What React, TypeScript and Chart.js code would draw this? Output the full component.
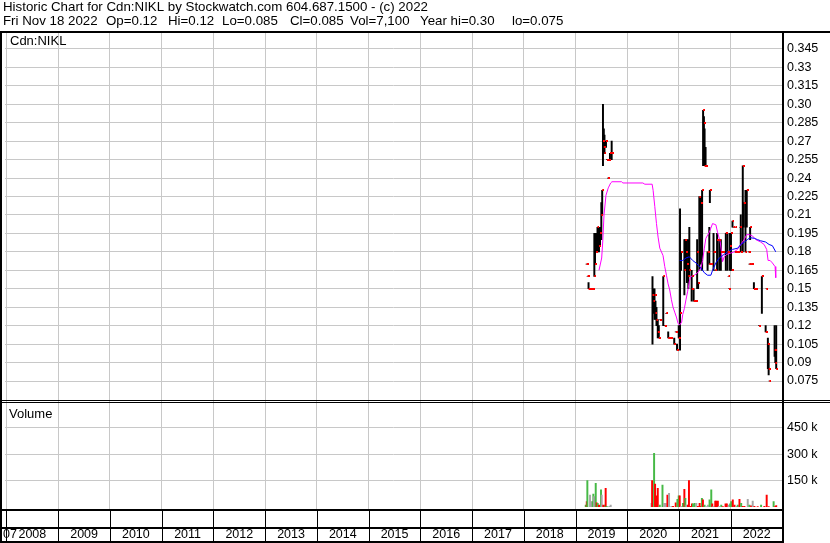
import React, { useEffect, useRef } from 'react';
import { Chart, registerables } from 'chart.js';

Chart.register(...registerables);

// ---------- text ----------
const headerLine1 = 'Historic Chart for Cdn:NIKL by Stockwatch.com 604.687.1500 - (c) 2022';
const headerFields = ['Fri Nov 18 2022', 'Op=0.12', 'Hi=0.12', 'Lo=0.085', 'Cl=0.085', 'Vol=7,100', 'Year hi=0.30', 'lo=0.075'];
const symbolLabel = 'Cdn:NIKL';
const volumeLabel = 'Volume';
const startLabel = '07';

// ---------- axes ----------
const yearTicks = [2008, 2009, 2010, 2011, 2012, 2013, 2014, 2015, 2016, 2017, 2018, 2019, 2020, 2021, 2022];
const yearLabels = ['2008', '2009', '2010', '2011', '2012', '2013', '2014', '2015', '2016', '2017', '2018', '2019', '2020', '2021', '2022'];

const priceTicks = [0.075, 0.09, 0.105, 0.12, 0.135, 0.15, 0.165, 0.18, 0.195, 0.21, 0.225, 0.24, 0.255, 0.27, 0.285, 0.3, 0.315, 0.33, 0.345];
const priceTickLabels = ['0.075', '0.09', '0.105', '0.12', '0.135', '0.15', '0.165', '0.18', '0.195', '0.21', '0.225', '0.24', '0.255', '0.27', '0.285', '0.30', '0.315', '0.33', '0.345'];

const volumeTicks = [150, 300, 450];
const volumeTickLabels = ['150 k', '300 k', '450 k'];

// ---------- daily price bars (decimal year) ----------
const barDates = [
  2019.214, 2019.233, 2019.252, 2019.281, 2019.310, 2019.339, 2019.364, 2019.377, 2019.397, 2019.425,
  2019.454, 2019.474, 2019.499, 2019.516, 2019.531, 2019.547, 2019.560, 2019.589, 2019.608, 2019.628,
  2019.647, 2019.666, 2019.699,
  2020.488, 2020.507, 2020.527, 2020.546, 2020.565, 2020.590, 2020.610, 2020.629, 2020.696, 2020.725,
  2020.754, 2020.792, 2020.821, 2020.850, 2020.908, 2020.937, 2020.962, 2020.995,
  2021.020, 2021.039, 2021.104, 2021.120, 2021.135, 2021.154, 2021.181, 2021.200, 2021.245, 2021.260,
  2021.283, 2021.328, 2021.351, 2021.370, 2021.393, 2021.424, 2021.447, 2021.466, 2021.482, 2021.495,
  2021.514, 2021.553, 2021.586, 2021.597, 2021.620, 2021.668, 2021.701, 2021.736, 2021.778, 2021.809,
  2021.842, 2021.905, 2021.938, 2021.957, 2021.966, 2021.986,
  2022.005, 2022.018, 2022.034, 2022.053, 2022.082, 2022.092, 2022.111, 2022.140, 2022.183, 2022.194,
  2022.233, 2022.252, 2022.285, 2022.310, 2022.348, 2022.361, 2022.375, 2022.394, 2022.419, 2022.448,
  2022.477, 2022.496, 2022.548, 2022.602, 2022.675, 2022.689, 2022.718, 2022.733, 2022.746, 2022.848,
  2022.862, 2022.879,
];
const barLows = [
  0.17, 0.16, 0.15, 0.15, 0.15, 0.15, 0.16, 0.17, 0.18, 0.18,
  0.18, 0.185, 0.19, 0.21, 0.25, 0.26, 0.26, 0.265, 0.255, 0.24,
  0.255, 0.255, 0.255,
  0.105, 0.13, 0.125, 0.125, 0.12, 0.11, 0.11, 0.125, 0.12, 0.12,
  0.13, 0.11, 0.11, 0.11, 0.105, 0.115, 0.10, 0.11,
  0.10, 0.165, 0.145, 0.17, 0.165, 0.155, 0.15, 0.16, 0.14, 0.16,
  0.14, 0.14, 0.15, 0.15, 0.165, 0.17, 0.165, 0.25, 0.25, 0.25,
  0.25, 0.165, 0.17, 0.22, 0.17, 0.165, 0.165, 0.165, 0.165, 0.165,
  0.18, 0.165, 0.165, 0.16, 0.15, 0.165,
  0.165, 0.165, 0.20, 0.20, 0.18, 0.20, 0.18, 0.18, 0.20, 0.18,
  0.18, 0.20, 0.18, 0.20, 0.18, 0.17, 0.19, 0.17, 0.17, 0.15,
  0.15, 0.15, 0.12, 0.13, 0.115, 0.15, 0.085, 0.08, 0.075, 0.095,
  0.09, 0.085,
];
const barHighs = [
  0.17, 0.16, 0.155, 0.15, 0.15, 0.15, 0.195, 0.195, 0.195, 0.20,
  0.20, 0.20, 0.22, 0.23, 0.30, 0.28, 0.275, 0.27, 0.255, 0.24,
  0.255, 0.26, 0.27,
  0.16, 0.15, 0.15, 0.14, 0.135, 0.125, 0.12, 0.125, 0.16, 0.12,
  0.13, 0.115, 0.11, 0.11, 0.11, 0.115, 0.105, 0.12,
  0.215, 0.18, 0.19, 0.19, 0.19, 0.19, 0.19, 0.20, 0.165, 0.16,
  0.15, 0.14, 0.19, 0.155, 0.225, 0.225, 0.23, 0.295, 0.29, 0.28,
  0.265, 0.18, 0.20, 0.23, 0.17, 0.195, 0.165, 0.195, 0.19, 0.19,
  0.18, 0.195, 0.195, 0.16, 0.15, 0.195,
  0.195, 0.165, 0.205, 0.20, 0.18, 0.20, 0.18, 0.18, 0.20, 0.21,
  0.25, 0.22, 0.23, 0.23, 0.18, 0.17, 0.20, 0.17, 0.17, 0.155,
  0.15, 0.15, 0.12, 0.16, 0.12, 0.15, 0.11, 0.105, 0.075, 0.12,
  0.10, 0.12,
];
const barCloses = [
  0.17, 0.16, 0.15, 0.15, 0.15, 0.15, 0.16, 0.17, 0.18, 0.20,
  0.185, 0.195, 0.21, 0.23, 0.27, 0.265, 0.26, 0.27, 0.255, 0.24,
  0.255, 0.26, 0.26,
  0.145, 0.14, 0.145, 0.13, 0.125, 0.115, 0.11, 0.125, 0.16, 0.12,
  0.13, 0.11, 0.11, 0.11, 0.105, 0.115, 0.10, 0.11,
  0.13, 0.18, 0.165, 0.19, 0.18, 0.17, 0.16, 0.165, 0.15, 0.16,
  0.14, 0.14, 0.18, 0.155, 0.225, 0.22, 0.23, 0.295, 0.285, 0.25,
  0.25, 0.18, 0.17, 0.23, 0.17, 0.18, 0.165, 0.19, 0.19, 0.18,
  0.18, 0.195, 0.18, 0.16, 0.15, 0.185,
  0.195, 0.165, 0.205, 0.20, 0.18, 0.20, 0.18, 0.18, 0.20, 0.18,
  0.25, 0.22, 0.18, 0.23, 0.18, 0.17, 0.20, 0.17, 0.17, 0.15,
  0.15, 0.15, 0.12, 0.16, 0.115, 0.15, 0.105, 0.085, 0.075, 0.10,
  0.09, 0.085,
];

// ---------- moving averages ----------
const maShortDates = [
  2019.454, 2019.506, 2019.526, 2019.551, 2019.589, 2019.633, 2019.680, 2019.705, 2019.891, 2019.916,
  2020.301, 2020.340, 2020.481, 2020.500, 2020.532, 2020.565, 2020.596, 2020.629, 2020.692, 2020.725,
  2020.758, 2020.789, 2020.821, 2020.854, 2020.885, 2020.917, 2020.950, 2020.981, 2021.014, 2021.052,
  2021.072, 2021.104, 2021.135, 2021.168, 2021.200, 2021.231, 2021.297, 2021.360, 2021.424, 2021.457,
  2021.490, 2021.520, 2021.586, 2021.649, 2021.713, 2021.745, 2021.797, 2021.822, 2021.842, 2021.874,
  2021.924, 2022.001, 2022.067, 2022.131, 2022.194, 2022.259, 2022.310, 2022.356, 2022.419, 2022.483,
  2022.579, 2022.645, 2022.695, 2022.722, 2022.761, 2022.805, 2022.857, 2022.870,
];
const maShortValues = [
  0.165, 0.175, 0.188, 0.210, 0.226, 0.232, 0.236, 0.237, 0.237, 0.236,
  0.236, 0.235, 0.235, 0.230, 0.217, 0.203, 0.192, 0.183, 0.177, 0.168,
  0.161, 0.154, 0.149, 0.141, 0.135, 0.131, 0.127, 0.122, 0.1205, 0.123,
  0.129, 0.134, 0.141, 0.148, 0.156, 0.160, 0.161, 0.163, 0.167, 0.173,
  0.183, 0.191, 0.196, 0.203, 0.202, 0.196, 0.188, 0.180, 0.172, 0.176,
  0.178, 0.179, 0.180, 0.182, 0.186, 0.190, 0.194, 0.194, 0.193, 0.190,
  0.188, 0.186, 0.182, 0.173, 0.173, 0.171, 0.168, 0.159,
];
const maLongDates = [
  2021.014, 2021.072, 2021.135, 2021.200, 2021.264, 2021.328, 2021.393, 2021.424, 2021.490, 2021.553,
  2021.616, 2021.649, 2021.713, 2021.778, 2021.842, 2021.938, 2022.034, 2022.136, 2022.194, 2022.265,
  2022.323, 2022.375, 2022.458, 2022.515, 2022.579, 2022.675, 2022.741, 2022.805, 2022.870,
];
const maLongValues = [
  0.173, 0.173, 0.175, 0.176, 0.173, 0.171, 0.168, 0.167, 0.163, 0.161,
  0.161, 0.165, 0.171, 0.175, 0.177, 0.180, 0.182, 0.183, 0.186, 0.188,
  0.190, 0.1915, 0.191, 0.190, 0.189, 0.188, 0.186, 0.185, 0.180,
];

// ---------- volume (thousands) ----------
const volDates = [
  2019.198, 2019.218, 2019.229, 2019.281, 2019.300, 2019.333, 2019.345, 2019.358, 2019.391, 2019.410,
  2019.429, 2019.454, 2019.493, 2019.506, 2019.537, 2019.570, 2019.583, 2019.603, 2019.653, 2019.680,
  2020.469, 2020.481, 2020.519, 2020.538, 2020.565, 2020.590, 2020.629, 2020.681, 2020.712, 2020.744,
  2020.777, 2020.808, 2020.854, 2020.885, 2020.937, 2020.970, 2020.995,
  2021.014, 2021.047, 2021.077, 2021.104, 2021.123, 2021.143, 2021.174, 2021.193, 2021.226, 2021.251,
  2021.270, 2021.303, 2021.335, 2021.366, 2021.399, 2021.418, 2021.443, 2021.463, 2021.495, 2021.528,
  2021.559, 2021.591, 2021.624, 2021.643, 2021.668, 2021.701, 2021.720, 2021.751, 2021.771, 2021.817,
  2021.848, 2021.900, 2021.925, 2021.963, 2021.990,
  2022.009, 2022.040, 2022.073, 2022.106, 2022.136, 2022.169, 2022.202, 2022.233, 2022.265, 2022.329,
  2022.361, 2022.394, 2022.425, 2022.458, 2022.521, 2022.587, 2022.650, 2022.695, 2022.733, 2022.829,
  2022.862, 2022.879,
];
const volValues = [
  10, 29, 150, 67, 29, 29, 73, 58, 134, 23,
  20, 10, 96, 67, 10, 10, 105, 3, 3, 10,
  20, 150, 305, 130, 62, 105, 10, 124, 20, 20,
  67, 77, 3, 2, 23, 43, 62,
  62, 3, 20, 100, 48, 10, 10, 149, 3, 16,
  16, 20, 20, 3, 20, 3, 48, 39, 10, 1.5,
  10, 39, 96, 16, 3, 33, 33, 33, 3, 10,
  1.5, 16, 16, 10, 16,
  29, 39, 10, 3, 10, 43, 20, 3, 3, 43,
  10, 5, 33, 2, 1.5, 10, 2, 67, 1.5, 29,
  3, 7.1,
];
// u = up (green), d = down (red), n = unchanged (grey)
const volDirs = [
  'u', 'd', 'u', 'n', 'n', 'u', 'u', 'n', 'u', 'd',
  'u', 'd', 'u', 'n', 'd', 'u', 'd', 'u', 'n', 'n',
  'n', 'd', 'u', 'd', 'd', 'd', 'u', 'u', 'n', 'n',
  'd', 'n', 'n', 'd', 'd', 'u', 'u',
  'd', 'n', 'u', 'd', 'u', 'n', 'd', 'd', 'd', 'd',
  'u', 'u', 'n', 'd', 'd', 'd', 'u', 'd', 'u', 'n',
  'n', 'u', 'u', 'd', 'n', 'd', 'd', 'd', 'n', 'u',
  'd', 'd', 'd', 'n', 'u',
  'u', 'd', 'd', 'n', 'u', 'd', 'u', 'd', 'd', 'n',
  'u', 'd', 'n', 'd', 'd', 'u', 'd', 'd', 'd', 'u',
  'd', 'd',
];
const dirColors: Record<string, string> = { u: '#46b946', d: '#ff0000', n: '#a6a6a6' };

const FONT = 'Arial, "Liberation Sans", sans-serif';
const headerFieldX = [3, 106, 168, 222, 290, 350, 420, 512];

const framePlugin = {
  id: 'stockFrame',
  beforeDraw(chart: any) {
    const ctx = chart.ctx;
    ctx.save();
    ctx.fillStyle = '#ffffff';
    ctx.fillRect(0, 0, chart.width, chart.height);
    ctx.restore();
  },
  afterDraw(chart: any) {
    const ctx = chart.ctx;
    const xs = chart.scales.x;
    ctx.save();
    ctx.fillStyle = '#000000';
    ctx.textBaseline = 'alphabetic';
    ctx.textAlign = 'left';
    ctx.font = '13.3px ' + FONT;
    ctx.fillText(headerLine1, 3, 11);
    headerFields.forEach((t, i) => ctx.fillText(t, headerFieldX[i], 25));
    ctx.font = '13px ' + FONT;
    ctx.fillText(symbolLabel, 10, 45);
    ctx.fillText(volumeLabel, 9, 418);
    ctx.font = '12.5px ' + FONT;
    ctx.textBaseline = 'middle';
    ctx.fillText(startLabel, 3, 535);

    // frame lines
    ctx.fillRect(0, 31, chart.width, 2); // header separator
    ctx.fillRect(0, 31, 2, chart.height - 31); // left border
    ctx.fillRect(782, 31, 2, chart.height - 31); // right plot border
    ctx.fillRect(0, 400, chart.width, 1); // panel separator (double)
    ctx.fillRect(0, 402, chart.width, 1);
    ctx.fillRect(0, 509, 784, 2); // volume bottom
    ctx.fillRect(0, 527, 784, 2); // strip middle
    ctx.fillRect(0, 541, 784, 2); // strip bottom
    for (const yr of yearTicks) {
      const px = Math.round(xs.getPixelForValue(yr));
      if (px > 2 && px < 782) ctx.fillRect(px, 510, 1, 32);
    }
    ctx.restore();
  },
};

export default function App() {
  const ref = useRef<HTMLCanvasElement>(null);

  useEffect(() => {
    document.body.style.margin = '0';
    const canvas = ref.current;
    if (!canvas) return;

    Chart.defaults.font.family = FONT;
    Chart.defaults.font.size = 12;
    Chart.defaults.color = '#000000';

    // close marker: small red square drawn just right of the bar
    const marker = document.createElement('canvas');
    marker.width = 4;
    marker.height = 2;
    const mctx = marker.getContext('2d');
    if (mctx) {
      mctx.fillStyle = '#ff0000';
      mctx.fillRect(2, 0, 2, 2);
    }

    const tickFont = { size: 12.5, family: FONT };

    const chart = new Chart(canvas, {
      type: 'line',
      data: {
        datasets: [
          {
            type: 'line',
            label: 'Close',
            data: barDates.map((d, i) => ({ x: d, y: barCloses[i] })),
            showLine: false,
            pointStyle: marker as any,
            pointRadius: 2,
            yAxisID: 'y',
            order: 0,
          },
          {
            type: 'line',
            label: 'MA long',
            data: maLongDates.map((d, i) => ({ x: d, y: maLongValues[i] })),
            borderColor: '#0000ff',
            borderWidth: 1,
            pointRadius: 0,
            yAxisID: 'y',
            order: 1,
          },
          {
            type: 'line',
            label: 'MA short',
            data: maShortDates.map((d, i) => ({ x: d, y: maShortValues[i] })),
            borderColor: '#ff00ff',
            borderWidth: 1,
            pointRadius: 0,
            yAxisID: 'y',
            order: 1,
          },
          {
            type: 'bar',
            label: 'Range',
            data: barDates.map((d, i) => ({ x: d, y: [barLows[i], barHighs[i]] })) as any,
            backgroundColor: '#000000',
            barThickness: 1.3,
            grouped: false,
            yAxisID: 'y',
            order: 2,
          } as any,
          {
            type: 'bar',
            label: 'Volume',
            data: volDates.map((d, i) => ({ x: d, y: volValues[i] })) as any,
            backgroundColor: volDirs.map((c) => dirColors[c]),
            barThickness: 1.3,
            grouped: false,
            yAxisID: 'yv',
            order: 3,
          } as any,
        ],
      },
      options: {
        animation: false,
        responsive: false,
        events: [],
        layout: { padding: { top: 32, left: 2, right: 0, bottom: 0 } },
        plugins: {
          legend: { display: false },
          tooltip: { enabled: false },
          title: { display: false },
        },
        scales: {
          x: {
            type: 'linear',
            min: 2007.974,
            max: 2022.991,
            offset: false,
            grid: { color: '#c8c8c8', drawTicks: false, offset: false },
            border: { display: false },
            ticks: {
              autoSkip: false,
              maxRotation: 0,
              minRotation: 0,
              padding: 18,
              labelOffset: 26,
              color: '#000000',
              font: tickFont,
              callback: (_v: any, i: number) => yearLabels[i],
            },
            afterBuildTicks: (s: any) => {
              s.ticks = yearTicks.map((v) => ({ value: v }));
            },
            afterFit: (s: any) => {
              s.height = 34;
              s.paddingLeft = 0;
              s.paddingRight = 0;
            },
          },
          y: {
            type: 'linear',
            position: 'right',
            stack: 'panels',
            stackWeight: 369.5,
            min: 0.05834,
            max: 0.35874,
            grid: { color: '#c8c8c8', drawTicks: false },
            border: { display: false },
            ticks: {
              autoSkip: false,
              padding: 5,
              color: '#000000',
              font: tickFont,
              callback: (_v: any, i: number) => priceTickLabels[i],
            },
            afterBuildTicks: (s: any) => {
              s.ticks = priceTicks.map((v) => ({ value: v }));
            },
            afterFit: (s: any) => {
              s.width = 48;
              s.paddingTop = 0;
              s.paddingBottom = 0;
            },
          },
          yv: {
            type: 'linear',
            position: 'right',
            stack: 'panels',
            stackWeight: 107.5,
            min: -12.9,
            max: 601.4,
            grid: { color: '#c8c8c8', drawTicks: false },
            border: { display: false },
            ticks: {
              autoSkip: false,
              padding: 5,
              color: '#000000',
              font: tickFont,
              callback: (_v: any, i: number) => volumeTickLabels[i],
            },
            afterBuildTicks: (s: any) => {
              s.ticks = volumeTicks.map((v) => ({ value: v }));
            },
            afterFit: (s: any) => {
              s.width = 48;
              s.paddingTop = 0;
              s.paddingBottom = 0;
            },
          },
        } as any,
      },
      plugins: [framePlugin],
    });

    return () => chart.destroy();
  }, []);

  return (
    <div style={{ width: 830, height: 543, background: '#ffffff' }}>
      <canvas ref={ref} width={830} height={543} style={{ display: 'block', width: 830, height: 543 }} />
    </div>
  );
}
